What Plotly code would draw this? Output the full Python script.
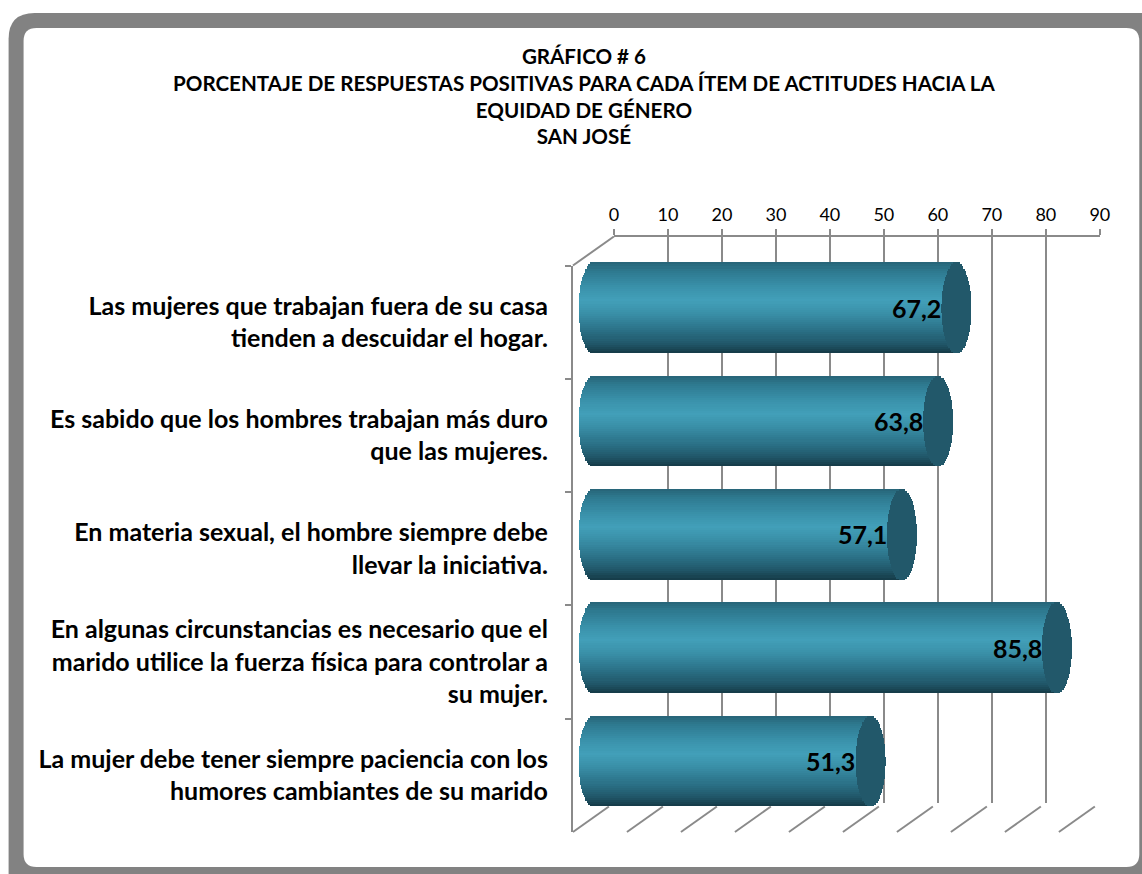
import numpy as np
import plotly.graph_objects as go

# ---------------- data ----------------
items = [
    "Las mujeres que trabajan fuera de su casa<br>tienden a descuidar el hogar.",
    "Es sabido que los hombres trabajan más duro<br>que las mujeres.",
    "En materia sexual, el hombre siempre debe<br>llevar la iniciativa.",
    "En algunas circunstancias es necesario que el<br>marido utilice la fuerza física para controlar a<br>su mujer.",
    "La mujer debe tener siempre paciencia con los<br>humores cambiantes de su marido",
]
values = [67.2, 63.8, 57.1, 85.8, 51.3]
tick_values = [0, 10, 20, 30, 40, 50, 60, 70, 80, 90]
title_lines = [
    "GRÁFICO # 6",
    "PORCENTAJE DE RESPUESTAS POSITIVAS PARA CADA ÍTEM DE ACTITUDES HACIA LA",
    "EQUIDAD DE GÉNERO",
    "SAN JOSÉ",
]

# ---------------- geometry (target pixels) ----------------
W, H = 1142, 874
SX, CX = 0.988, 4.4          # horizontal calibration of the capture
FONT = "Lato"
GRID = "#8a8a8a"
DX, DY = 20.5, 14.5          # half depth offset of 3-D box
BACK_X0, BACK_X1 = 614, 1100.5
BACK_Y0, BACK_Y1 = 236.5, 803
XMAX = 90
PXU = (BACK_X1 - BACK_X0) / XMAX
XLEFT = -4                   # room for the rounded left end of the cylinders


def fx(px):
    return ((px - CX) / SX) / W


def fy(py):
    return 1 - py / H


# gradient for cylinder body
stops = [
    (0.00, (0x27, 0x64, 0x77)),
    (0.10, (0x2e, 0x7a, 0x90)),
    (0.28, (0x3a, 0x92, 0xab)),
    (0.42, (0x42, 0x9f, 0xb9)),
    (0.56, (0x3a, 0x90, 0xa8)),
    (0.75, (0x2b, 0x71, 0x87)),
    (0.90, (0x20, 0x56, 0x68)),
    (1.00, (0x15, 0x3a, 0x46)),
]


def grad(t):
    for (t0, c0), (t1, c1) in zip(stops[:-1], stops[1:]):
        if t0 <= t <= t1:
            f = (t - t0) / (t1 - t0)
            c = [round(a + (b - a) * f) for a, b in zip(c0, c1)]
            return "rgb(%d,%d,%d)" % tuple(c)
    return "rgb(%d,%d,%d)" % stops[-1][1]


fig = go.Figure()

# back wall (x / y): gridlines and top axis
fig.add_trace(go.Scatter(x=[0, XMAX], y=[0, 1], mode="markers",
                         marker=dict(opacity=0), hoverinfo="skip",
                         showlegend=False, xaxis="x", yaxis="y"))

# cylinders (x2 / y2) built from stripes
N = 44
BW = 0.8
a_units = 15.0 / PXU
vals = np.array(values)
for k in range(N):
    tc = (k + 0.5) / N
    t = 2 * tc - 1
    e = a_units * np.sqrt(max(0.0, 1 - t * t))
    w = BW / N * (1.6 if k < N - 1 else 1.0)
    fig.add_trace(go.Bar(
        y=items, x=vals + e, base=[-e] * len(vals), orientation="h",
        width=w, offset=-BW / 2 + k * BW / N,
        marker=dict(color=grad(tc), line=dict(width=0)),
        hoverinfo="skip", showlegend=False, xaxis="x2", yaxis="y2"))
for k in range(N):
    tc = (k + 0.5) / N
    t = 2 * tc - 1
    e = a_units * np.sqrt(max(0.0, 1 - t * t))
    w = BW / N * (1.6 if k < N - 1 else 1.0)
    fig.add_trace(go.Bar(
        y=items, x=[2 * e] * len(vals), base=vals - e, orientation="h",
        width=w, offset=-BW / 2 + k * BW / N,
        marker=dict(color="#22586a", line=dict(width=0)),
        hoverinfo="skip", showlegend=False, xaxis="x2", yaxis="y2"))

# front axis (x3 / y3) carrying the category labels
fig.add_trace(go.Scatter(x=values, y=items, mode="markers",
                         marker=dict(opacity=0), hoverinfo="skip",
                         showlegend=False, xaxis="x3", yaxis="y3"))

# value labels
annotations = []
for it, v in zip(items, values):
    annotations.append(dict(
        x=v, y=it, xref="x2", yref="y2", xanchor="right", yanchor="middle",
        xshift=-13, showarrow=False, text=("%.1f" % v).replace(".", ","),
        font=dict(family=FONT, size=25, color="black", weight="bold")))

# title
annotations.append(dict(
    x=fx(585), y=fy(42), xref="paper", yref="paper", xanchor="center",
    yanchor="top", showarrow=False, align="center",
    text="<br>".join(title_lines),
    font=dict(family=FONT, size=20.6, color="black", weight="bold")))

# shapes: frame + floor/side lines of the 3-D box
r_o, r_i = 26, 13
ox0, oy0, ox1, oy1 = 8, 13, 1190, 900
ix0, iy0, ix1, iy1 = 23, 28, 1140, 867


def rrect(x0, y0, x1, y1, r):
    return (f"M {fx(x0)},{fy(y0 + r)} Q {fx(x0)},{fy(y0)} {fx(x0 + r)},{fy(y0)} "
            f"L {fx(x1 - r)},{fy(y0)} Q {fx(x1)},{fy(y0)} {fx(x1)},{fy(y0 + r)} "
            f"L {fx(x1)},{fy(y1 - r)} Q {fx(x1)},{fy(y1)} {fx(x1 - r)},{fy(y1)} "
            f"L {fx(x0 + r)},{fy(y1)} Q {fx(x0)},{fy(y1)} {fx(x0)},{fy(y1 - r)} Z")


shapes = [
    dict(type="path", xref="paper", yref="paper", path=rrect(ox0, oy0, ox1, oy1, r_o),
         fillcolor="#828282", line=dict(width=0), layer="below"),
    dict(type="path", xref="paper", yref="paper", path=rrect(ix0, iy0, ix1, iy1, r_i),
         fillcolor="white", line=dict(width=0), layer="below"),
]
for tv in tick_values:
    xb = BACK_X0 + tv * PXU
    shapes.append(dict(type="line", xref="paper", yref="paper",
                       x0=fx(xb - 5), y0=fy(BACK_Y1 + 3.5),
                       x1=fx(xb - 2 * DX), y1=fy(BACK_Y1 + 2 * DY),
                       line=dict(color=GRID, width=2), layer="below"))
shapes.append(dict(type="line", xref="paper", yref="paper",
                   x0=fx(BACK_X0), y0=fy(BACK_Y0),
                   x1=fx(BACK_X0 - 2 * DX), y1=fy(BACK_Y0 + 2 * DY),
                   line=dict(color=GRID, width=2), layer="below"))

fig.update_layout(
    width=W, height=H,
    margin=dict(l=0, r=0, t=0, b=0),
    paper_bgcolor="white", plot_bgcolor="rgba(0,0,0,0)",
    barmode="overlay", bargap=0,
    showlegend=False,
    annotations=annotations,
    shapes=shapes,
    xaxis=dict(domain=[fx(BACK_X0), fx(BACK_X1)], range=[0, XMAX], side="top",
               tickvals=tick_values, showgrid=True, gridcolor=GRID, gridwidth=2,
               showline=True, linecolor=GRID, linewidth=2,
               ticks="outside", ticklen=6, tickcolor=GRID, tickwidth=2,
               zeroline=False, anchor="y",
               tickfont=dict(family=FONT, size=18, color="black")),
    yaxis=dict(domain=[fy(BACK_Y1), fy(BACK_Y0)], range=[0, 1], visible=False,
               showgrid=False, zeroline=False, anchor="x"),
    xaxis2=dict(domain=[fx(BACK_X0 - DX + XLEFT * PXU), fx(BACK_X1 - DX)],
                range=[XLEFT, XMAX],
                visible=False, showgrid=False, zeroline=False, anchor="y2"),
    yaxis2=dict(domain=[fy(BACK_Y1 + DY), fy(BACK_Y0 + DY)], type="category",
                categoryorder="array", categoryarray=items,
                range=[len(items) - 0.5, -0.5], visible=False, anchor="x2"),
    xaxis3=dict(domain=[fx(BACK_X0 - 2 * DX), fx(BACK_X1 - 2 * DX)], range=[0, XMAX],
                visible=False, showgrid=False, zeroline=False, anchor="y3"),
    yaxis3=dict(domain=[fy(BACK_Y1 + 2 * DY), fy(BACK_Y0 + 2 * DY)], type="category",
                categoryorder="array", categoryarray=items,
                range=[len(items) - 0.5, -0.5], anchor="x3",
                showline=True, linecolor=GRID, linewidth=2,
                ticks="outside", tickson="boundaries", ticklen=6,
                tickcolor=GRID, tickwidth=2, showgrid=False,
                ticklabelstandoff=18,
                tickfont=dict(family=FONT, size=25, color="black", weight="bold")),
)

fig.write_html(
    "out.html",
    config={"displayModeBar": False},
    post_script="document.body.style.margin='0';document.body.style.overflow='hidden';",
)
